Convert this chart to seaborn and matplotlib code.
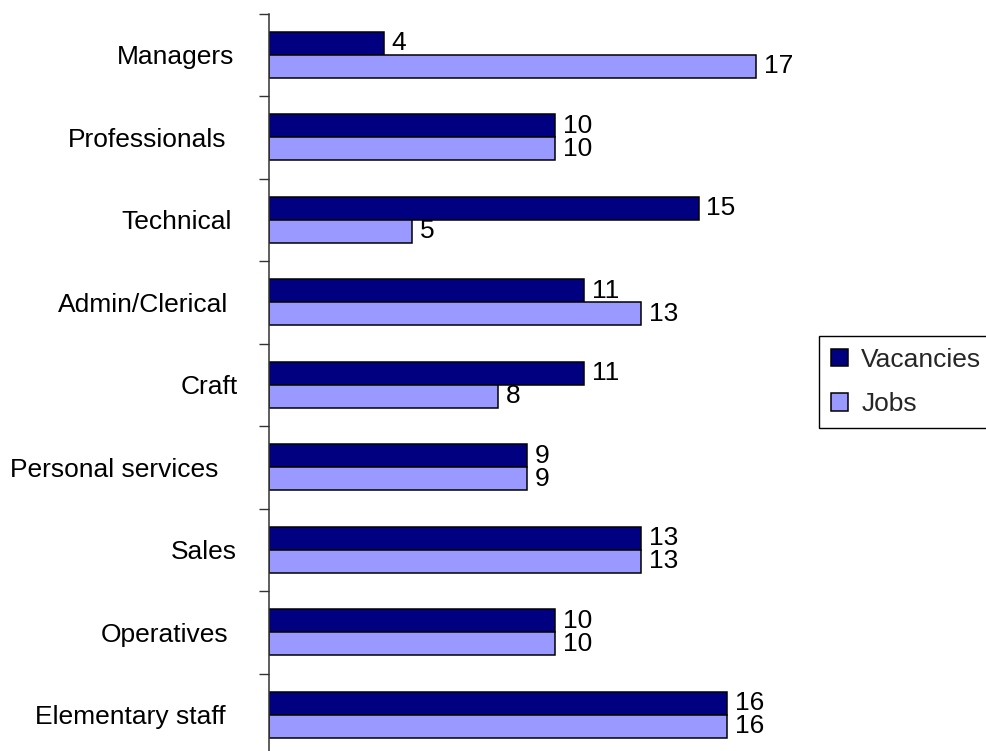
import matplotlib
matplotlib.use("Agg")
import matplotlib.pyplot as plt
import matplotlib.transforms as mtransforms
import seaborn as sns
import pandas as pd
import numpy as np

# Occupational groups and the two measured series
categories = ["Managers", "Professionals", "Technical", "Admin/Clerical", "Craft",
              "Personal services", "Sales", "Operatives", "Elementary staff"]
vacancies = [4, 10, 15, 11, 11, 9, 13, 10, 16]
jobs = [17, 10, 5, 13, 8, 9, 13, 10, 16]
series_names = ["Vacancies", "Jobs"]

df = pd.DataFrame({
    "occupation": categories * 2,
    "value": vacancies + jobs,
    "series": [series_names[0]] * len(categories) + [series_names[1]] * len(categories),
})

sns.set_theme(style="white")
plt.rcParams["font.family"] = ["Liberation Sans", "DejaVu Sans"]
FS = 19

fig = plt.figure(figsize=(9.87, 7.51), dpi=100)
ax = fig.add_axes([0.2725, -0.0067, 0.5805, 0.9887])

sns.barplot(data=df, y="occupation", x="value", hue="series", orient="h",
            order=categories, hue_order=series_names,
            palette={"Vacancies": "#000080", "Jobs": "#9999FF"},
            width=0.56, edgecolor="black", linewidth=1.1, saturation=1,
            ax=ax, legend=True)

for cont in ax.containers:
    ax.bar_label(cont, fmt="%d", padding=5.5, fontsize=FS, color="black")

ax.set_xlim(0, 20)
ax.set_ylim(len(categories) - 0.5, -0.5)
ax.set_xlabel("")
ax.set_ylabel("")
ax.set_xticks([])

# Category labels at centres, tick marks at group boundaries
ax.set_yticks(range(len(categories)))
ax.set_yticklabels(categories, fontsize=FS, color="black")
ax.set_yticks(np.arange(-0.5, len(categories), 1.0), minor=True)
ax.tick_params(axis="y", which="major", length=0, pad=25)
ax.tick_params(axis="y", which="minor", length=7.5, width=1.0, color="#333333",
               direction="out", left=True)

# Small horizontal nudges (pixels) of individual category labels
label_nudge_px = [0, -8, -2, -6, 4, -16, 3, -6, -9]
for lbl, dx in zip(ax.get_yticklabels(), label_nudge_px):
    lbl.set_transform(lbl.get_transform() +
                      mtransforms.ScaledTranslation(dx / 100, 0, fig.dpi_scale_trans))

for side in ["top", "right", "bottom"]:
    ax.spines[side].set_visible(False)
ax.spines["left"].set_color("#333333")
ax.spines["left"].set_linewidth(1.1)

leg = ax.get_legend()
leg.remove()
handles, labels = ax.get_legend_handles_labels()
fig.legend(handles, labels, loc="upper left",
           bbox_to_anchor=(819 / 987, 1 - 336 / 751),
           fontsize=FS, frameon=True, fancybox=False, edgecolor="black",
           framealpha=1, handlelength=0.65, handleheight=0.65,
           handletextpad=0.5, labelspacing=0.78, borderpad=0.45,
           borderaxespad=0.0)
fig.legends[0].get_frame().set_linewidth(1.0)

fig.savefig("out.png", dpi=100, facecolor="white")
